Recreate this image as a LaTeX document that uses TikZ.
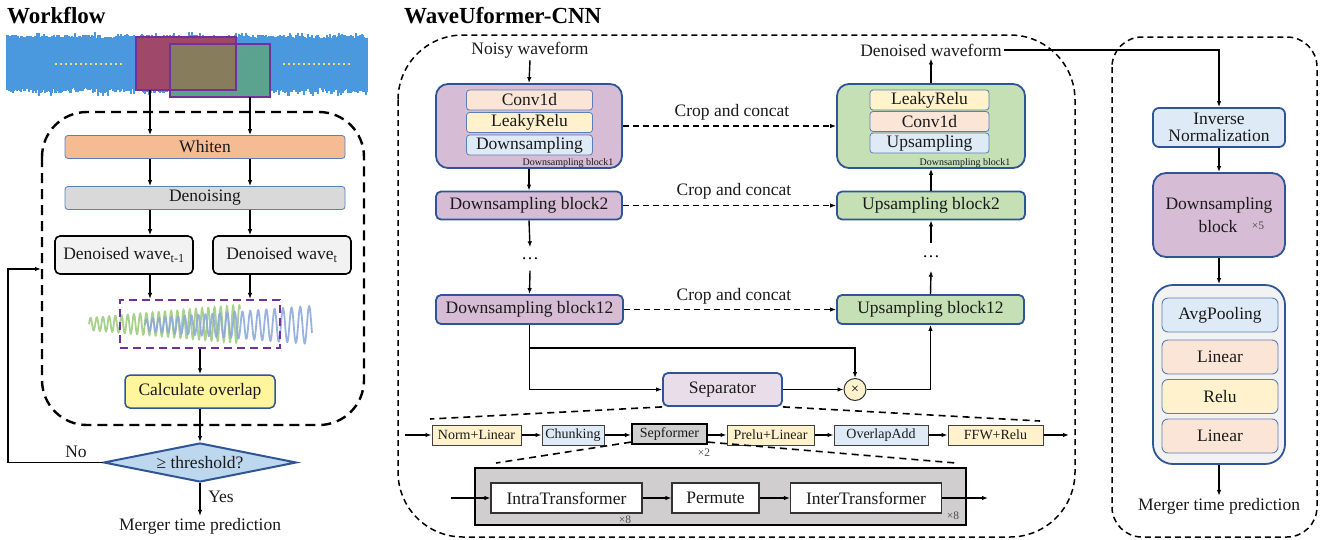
\documentclass[tikz,border=0pt]{standalone}
\usepackage{fontspec}
\setmainfont{Liberation Serif}
\usetikzlibrary{shapes.geometric,arrows.meta,calc}
\definecolor{bordblue}{HTML}{2F5597}
\definecolor{inblue}{HTML}{5B7DB8}
\definecolor{purpc}{HTML}{D6BCD5}
\definecolor{greenc}{HTML}{C5E0B4}
\definecolor{peach}{HTML}{FBE5D6}
\definecolor{lyel}{HTML}{FFF2CC}
\definecolor{lblue}{HTML}{DEEBF7}
\definecolor{salmon}{HTML}{F5BC94}
\definecolor{dgray}{HTML}{D9D9D9}
\definecolor{lgray}{HTML}{F2F2F2}
\definecolor{calcy}{HTML}{FFF59D}
\definecolor{diab}{HTML}{BDD7EE}
\definecolor{sepc}{HTML}{E8DDE8}
\definecolor{sepfc}{HTML}{D0D0D0}
\definecolor{sfgray}{HTML}{D0CECE}
\definecolor{wavb}{HTML}{4A99DE}
\definecolor{purp}{HTML}{7030A0}
\definecolor{redr}{HTML}{A0486A}
\definecolor{greenr}{HTML}{5BA38E}
\definecolor{olivr}{HTML}{877D5C}
\definecolor{dotyel}{HTML}{FFD966}
\definecolor{wgreen}{HTML}{A9D18E}
\definecolor{wblue}{HTML}{8FAADC}
\definecolor{txt}{HTML}{1A1A1A}
\newcommand\fmain{\fontsize{17.5}{19}\selectfont}
\newcommand\frow{\fontsize{14}{15}\selectfont}
\newcommand\ftiny{\fontsize{10}{11}\selectfont}
\newcommand\fmark{\fontsize{11.5}{12}\selectfont}
\newcommand\ftitle{\fontsize{23}{26}\selectfont\bfseries}
\begin{document}
\begin{tikzpicture}[x=1pt,y=-1pt,
  ln/.style={line width=1.4pt},
  arr/.style={ln,-{Latex[length=6pt,width=4.5pt]}},
  darr/.style={arr,dash pattern=on 6pt off 4pt,line width=1.6pt},
  zdash/.style={line width=1.6pt,dash pattern=on 7pt off 5pt},
  lbl/.style={font=\fmain,text=txt,inner sep=2pt},
  title/.style={font=\ftitle,anchor=west,inner sep=0pt},
  wfbar/.style={draw=inblue,line width=0.8pt,rounded corners=3pt,inner sep=0pt,font=\fmain,text=txt,minimum width=280pt,minimum height=23pt},
  dwave/.style={draw=black,line width=1.6pt,rounded corners=5pt,fill=lgray,inner sep=0pt,font=\fmain,text=txt,minimum width=138pt,minimum height=38pt},
  blk/.style={draw=bordblue,line width=1.8pt,inner sep=0pt,font=\fmain,text=txt},
  inbox/.style={draw=inblue,line width=0.8pt,rounded corners=3pt,inner sep=0pt,font=\fmain,text=txt,minimum height=20pt},
  rowbox/.style={draw=black!75,line width=1pt,inner sep=0pt,font=\frow,text=txt,minimum height=20pt},
  tfbox/.style={draw=black!80,line width=1.2pt,fill=white,inner sep=0pt,font=\fmain,text=txt,minimum height=30pt},
  headbox/.style={draw=inblue,line width=0.9pt,rounded corners=6pt,inner sep=0pt,font=\fmain,text=txt,minimum width=116pt,minimum height=34pt},
  small/.style={font=\ftiny,text=txt,inner sep=0pt},
  timeslbl/.style={font=\fmark,text=black!70,inner sep=0pt}
]
\useasboundingbox (0,0) rectangle (1328,539);

% ================= Workflow =================
\node[title] (t1) at (7,16) {Workflow};
\pgfmathsetseed{11}
\foreach \i in {7,...,367}{
  \pgfmathsetmacro\ta{35+4*rnd-4*rnd^6}
  \pgfmathsetmacro\tb{88+5*rnd+4*rnd^6}
  \draw[wavb,line width=1.2pt] (\i,\ta) -- (\i,\tb);
}
\draw[dotyel,line width=2pt,dash pattern=on 2pt off 3pt] (55,64) -- (125,64);
\draw[dotyel,line width=2pt,dash pattern=on 2pt off 3pt] (283,64) -- (350,64);
\fill[redr] (136,37) rectangle (236,90);
\fill[greenr] (170,44) rectangle (270,97);
\fill[olivr] (170,44) rectangle (236,90);
\draw[purp,line width=2.2pt] (136,37) rectangle (236,90);
\draw[purp,line width=2.2pt] (170,44) rectangle (270,97);
\coordinate (r1) at (150,90);
\coordinate (r2) at (250,97);

\draw[line width=2.4pt,dash pattern=on 10pt off 6pt,rounded corners=45pt] (42,112) rectangle (364,425);

\node[wfbar,fill=salmon] (whiten) at (205,147) {Whiten};
\node[wfbar,fill=dgray] (denoise) at (205,198) {Denoising};
\node[dwave] (dw1) at (124,255) {Denoised wave\textsubscript{t-1}};
\node[dwave] (dw2) at (282,255) {Denoised wave\textsubscript{t}};

\draw[wgreen,line width=1.8pt] plot[domain=89:240,samples=600] (\x,{324-(6+13*(\x-89)/151)*sin((\x-89)/6.2*360)});
\draw[wblue,line width=1.8pt,opacity=0.9] plot[domain=145:312,samples=600] (\x,{325-(6+13*(\x-145)/167)*sin(ln(1+0.5*(\x-145)/167)*55.67*360)});
\node[draw=purp,line width=2.2pt,dash pattern=on 8pt off 5pt,minimum width=160pt,minimum height=48pt,inner sep=0pt] (pbox) at (200,324) {};

\draw[arr] (r1) -- (r1 |- whiten.north);
\draw[arr] (r2) -- (r2 |- whiten.north);
\draw[arr] (whiten.south -| r1) -- (denoise.north -| r1);
\draw[arr] (whiten.south -| r2) -- (denoise.north -| r2);
\draw[arr] (denoise.south -| r1) -- (dw1.north -| r1);
\draw[arr] (denoise.south -| r2) -- (dw2.north -| r2);
\draw[arr] (dw1.south -| r1) -- (pbox.north -| r1);
\draw[arr] (dw2.south -| r2) -- (pbox.north -| r2);

\node[draw=bordblue,line width=1.5pt,rounded corners=5pt,fill=calcy,inner sep=0pt,font=\fmain,text=txt,minimum width=150pt,minimum height=33pt] (calc) at (200,391.5) {Calculate overlap};
\draw[arr] (pbox.south) -- (calc.north);

\node[diamond,aspect=4.9,draw=bordblue,line width=2pt,fill=diab,inner sep=0pt,minimum width=193pt,minimum height=39pt,font=\fmain,text=txt] (dia) at (200,462.5) {≥ threshold?};
\draw[arr] (calc.south) -- (dia.north);
\node[lbl] (merge1) at (200,526) {Merger time prediction};
\draw[arr] (dia.south) -- (merge1.north);
\node[lbl] (yes) at (221,497) {Yes};
\coordinate (lp) at (41,269);
\draw[arr] (dia.west) -- (8,462.5) |- (lp);
\node[lbl] (no) at (76,452) {No};

% ================= WaveUformer-CNN =================
\node[title] (t2) at (404,16) {WaveUformer-CNN};
\draw[line width=1.5pt,dash pattern=on 6pt off 4pt,rounded corners=65pt] (398,35) rectangle (1075,537);

\node[lbl] (noisy) at (530,50) {Noisy waveform};
\node[blk,fill=purpc,rounded corners=12pt,minimum width=186pt,minimum height=84pt] (db1) at (529,126) {};
\node[inbox,fill=peach,minimum width=126pt] (c1) at (529.5,100) {Conv1d};
\node[inbox,fill=lyel,minimum width=126pt] (lr1) at (529.5,122.5) {LeakyRelu};
\node[inbox,fill=lblue,minimum width=126pt] (ds1) at (529.5,145) {Downsampling};
\node[small] (dsl1) at (568,163) {Downsampling block1};

\node[lbl] (dwf) at (931,50) {Denoised waveform};
\node[blk,fill=greenc,rounded corners=12pt,minimum width=188pt,minimum height=84pt] (ub1) at (931,126) {};
\node[inbox,fill=lyel,minimum width=119pt] (lr2) at (929.5,100) {LeakyRelu};
\node[inbox,fill=peach,minimum width=119pt] (c2) at (929.5,121.5) {Conv1d};
\node[inbox,fill=lblue,minimum width=119pt] (us1) at (929.5,143) {Upsampling};
\node[small] (usl1) at (965,163) {Downsampling block1};

\node[blk,fill=purpc,rounded corners=5pt,minimum width=186pt,minimum height=28pt] (db2) at (529,205.5) {Downsampling block2};
\node[blk,fill=greenc,rounded corners=5pt,minimum width=188pt,minimum height=28pt] (ub2) at (931,205.5) {Upsampling block2};
\node[inner sep=0pt,minimum height=23pt,font=\fmain] (dots1) at (530,259) {\ldots};
\node[inner sep=0pt,minimum height=27pt,font=\fmain] (dots2) at (931,257) {\ldots};
\node[blk,fill=purpc,rounded corners=5pt,minimum width=187pt,minimum height=29pt] (db12) at (529.5,309.5) {Downsampling block12};
\node[blk,fill=greenc,rounded corners=5pt,minimum width=187pt,minimum height=29pt] (ub12) at (930.5,309.5) {Upsampling block12};

\draw[arr] (noisy.south) -- (db1.north);
\draw[arr] (ub1.north) -- (dwf.south);
\draw[darr] (db1.east) -- (ub1.west);
\draw[darr] (db2.east) -- (ub2.west);
\draw[darr] (db12.east) -- (ub12.west);
\node[lbl] (cc1) at (732,112) {Crop and concat};
\node[lbl] (cc2) at (734,191) {Crop and concat};
\node[lbl] (cc3) at (734,296) {Crop and concat};
\draw[arr] (db1.south) -- (db2.north);
\draw[arr] (db2.south) -- (dots1.north);
\draw[arr] (dots1.south) -- (db12.north);
\draw[arr] (ub2.north) -- (ub1.south);
\draw[arr] (dots2.north) -- (ub2.south);
\draw[arr] (ub12.north) -- (dots2.south);

\node[blk,fill=sepc,rounded corners=5pt,minimum width=119pt,minimum height=33pt] (sep) at (722.5,389.5) {Separator};
\node[circle,draw=black!80,line width=1pt,fill=lyel,minimum size=22pt,inner sep=0pt,font=\frow] (mul) at (855,389.5) {×};
\draw[arr] (db12.south) |- (sep.west);
\draw[arr] (db12.south |- 0,348) -| (mul.north);
\draw[arr] (sep.east) -- (mul.west);
\draw[arr] (mul.east) -| (ub12.south);

% separator expansion
\coordinate (zl1) at (430,419);
\coordinate (zr1) at (1040,421);
\draw[zdash] (sep.south west) -- (zl1);
\draw[zdash] (sep.south east) -- (zr1);

\coordinate (rin) at (405,435);
\coordinate (rout) at (1069,435);
\node[rowbox,fill=lyel,minimum width=89pt] (nl) at (476.5,435) {Norm+Linear};
\node[rowbox,fill=lblue,minimum width=62pt] (chk) at (573,435) {Chunking};
\node[rowbox,draw=black,line width=2.2pt,fill=sepfc,minimum width=75pt] (sepf) at (669.5,434) {Sepformer};
\node[rowbox,fill=lyel,minimum width=87pt] (pl) at (770.5,435) {Prelu+Linear};
\node[rowbox,fill=lblue,minimum width=94pt] (ola) at (881,435) {OverlapAdd};
\node[rowbox,fill=lyel,minimum width=95pt] (ffw) at (995.5,435) {FFW+Relu};
\draw[arr] (rin) -- (nl.west);
\draw[arr] (nl.east) -- (chk.west);
\draw[arr] (chk.east) -- (sepf.west |- chk.east);
\draw[arr] (sepf.east |- pl.west) -- (pl.west);
\draw[arr] (pl.east) -- (ola.west);
\draw[arr] (ola.east) -- (ffw.west);
\draw[arr] (ffw.east) -- (rout);
\node[timeslbl] (x2) at (704,453) {×2};

\coordinate (zl2) at (496,463);
\coordinate (zr2) at (956,463);
\draw[zdash] ([yshift=3pt]sepf.south west) -- (zl2);
\draw[zdash] ([yshift=3pt]sepf.south east) -- (zr2);

\node[draw=black,line width=2.5pt,fill=sfgray,minimum width=491pt,minimum height=57pt,inner sep=0pt] (sfbox) at (720.5,496.5) {};
\node[tfbox,minimum width=151pt] (intra) at (566.5,498) {IntraTransformer};
\node[tfbox,minimum width=87pt] (perm) at (715.5,498) {Permute};
\node[tfbox,minimum width=151pt] (inter) at (866,498) {InterTransformer};
\coordinate (tin) at (451,498);
\coordinate (tout) at (988,498);
\draw[arr] (tin) -- (intra.west);
\draw[arr] (intra.east) -- (perm.west);
\draw[arr] (perm.east) -- (inter.west);
\draw[arr] (inter.east) -- (tout);
\node[timeslbl] (x8a) at (625,520) {×8};
\node[timeslbl] (x8b) at (953,516) {×8};

% ================= Right panel =================
\draw[line width=1.5pt,dash pattern=on 6pt off 4pt,rounded corners=30pt] (1112,37) rectangle (1317,537);
\node[blk,fill=lblue,rounded corners=6pt,minimum width=132pt,minimum height=39pt,align=center] (invn) at (1219,127.5) {Inverse\\[-2pt]Normalization};
\draw[arr] (dwf.east) -| (invn.north);
\node[blk,fill=purpc,rounded corners=13pt,minimum width=132pt,minimum height=84pt] (dsb) at (1219,215) {};
\node[lbl] (dsbt1) at (1219,205) {Downsampling};
\node[lbl] (dsbt2) at (1218,227) {block};
\node[timeslbl] (x5) at (1258,226) {×5};
\draw[arr] (invn.south) -- (dsb.north);
\node[blk,fill=lgray,rounded corners=20pt,minimum width=132pt,minimum height=179pt] (head) at (1219,374.5) {};
\node[headbox,fill=lblue] (avg) at (1220,315) {AvgPooling};
\node[headbox,fill=peach] (lin1) at (1220,357) {Linear};
\node[headbox,fill=lyel] (relu) at (1220,396.5) {Relu};
\node[headbox,fill=peach] (lin2) at (1220,436) {Linear};
\draw[arr] (dsb.south) -- (head.north);
\node[lbl] (merge2) at (1219,506) {Merger time prediction};
\draw[arr] (head.south) -- (merge2.north);
\end{tikzpicture}
\end{document}
